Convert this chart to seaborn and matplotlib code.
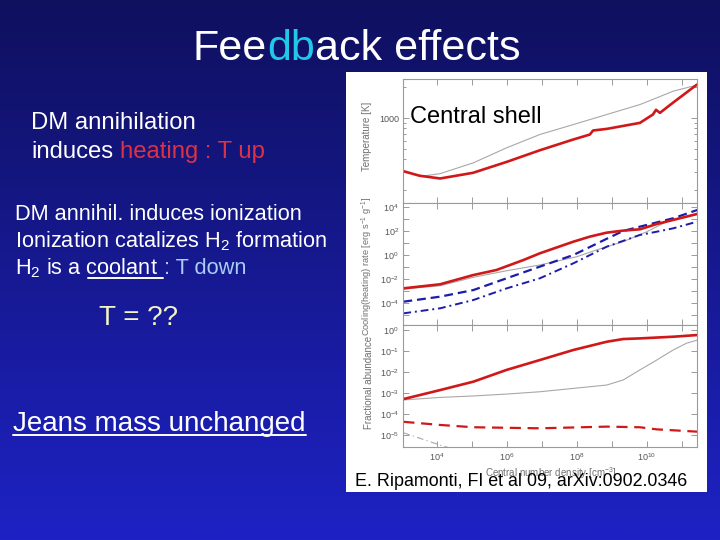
import numpy as np
import pandas as pd
import matplotlib
matplotlib.use("Agg")
import matplotlib.pyplot as plt
import seaborn as sns
from matplotlib.patches import Rectangle
from matplotlib.lines import Line2D
from matplotlib.ticker import NullLocator, NullFormatter

# ---------------- data (log10 values) ----------------
# Panel 1: temperature [K] vs central number density [cm^-3]
n_T_red = [3.04, 3.5, 4.09, 5.03, 6.0, 6.94, 7.89, 8.37, 8.46, 8.86, 9.80, 10.17, 10.26, 10.37, 10.74, 11.43]
T_red = [2.484, 2.44, 2.413, 2.468, 2.575, 2.687, 2.791, 2.84, 2.879, 2.895, 2.953, 3.034, 3.08, 3.05, 3.148, 3.325]
n_T_gray = [3.04, 3.51, 3.71, 4.09, 5.04, 5.99, 6.94, 7.9, 8.85, 9.80, 10.28, 10.75, 11.42]
T_gray = [2.484, 2.44, 2.442, 2.46, 2.565, 2.711, 2.84, 2.937, 3.034, 3.131, 3.196, 3.261, 3.319]

# Panel 2: cooling (heating) rate [erg s^-1 g^-1]
n_C_red = [3.04, 4.09, 5.04, 5.7, 6.47, 6.94, 7.9, 8.37, 8.85, 9.32, 9.8, 10.28, 10.75, 11.44]
C_red = [-2.78, -2.44, -1.67, -1.25, -0.42, 0.14, 1.11, 1.53, 1.86, 2.03, 2.14, 2.58, 2.92, 3.42]
n_C_gray = [3.04, 4.09, 5.04, 5.99, 6.94, 8.0, 8.56, 9.32, 10.0, 10.47, 10.75, 11.44]
C_gray = [-2.83, -2.56, -1.86, -1.31, -0.83, -0.14, 0.42, 1.11, 1.94, 2.64, 2.97, 3.42]
n_C_bdash = [3.04, 4.09, 5.04, 5.99, 6.94, 7.9, 8.85, 9.32, 9.8, 10.75, 11.44]
C_bdash = [-3.89, -3.47, -2.92, -1.94, -0.97, 0.0, 1.35, 2.0, 2.36, 3.06, 3.75]
n_C_bdot = [3.04, 4.09, 5.04, 5.99, 6.94, 7.9, 8.85, 9.8, 10.28, 10.75, 11.44]
C_bdot = [-4.86, -4.44, -3.75, -2.78, -1.94, -0.69, 0.69, 1.67, 1.94, 2.22, 2.78]

# Panel 3: fractional abundance
n_F_red = [3.04, 4.09, 5.04, 5.99, 6.94, 7.9, 8.85, 9.32, 9.8, 10.75, 11.44]
F_red = [-3.29, -2.86, -2.46, -1.90, -1.43, -0.95, -0.56, -0.43, -0.40, -0.32, -0.24]
n_F_gray = [3.04, 4.09, 5.04, 5.99, 6.94, 7.9, 8.85, 9.32, 9.8, 10.28, 10.75, 11.13, 11.44]
F_gray = [-3.33, -3.21, -3.14, -3.05, -2.94, -2.78, -2.62, -2.38, -1.90, -1.43, -0.95, -0.63, -0.48]
n_F_rdash = [3.04, 4.09, 5.04, 6.94, 8.85, 9.8, 10.28, 11.44]
F_rdash = [-4.37, -4.52, -4.63, -4.68, -4.60, -4.63, -4.73, -4.84]
n_F_gdash = [3.04, 4.09, 5.04]
F_gdash = [-4.89, -5.48, -5.95]

x_tick_exps = [4, 5, 6, 7, 8, 9, 10, 11]
x_label_exps = [4, 6, 8, 10]
C_tick_exps = [-5, -4, -3, -2, -1, 0, 1, 2, 3, 4]
C_label_exps = [-4, -2, 0, 2, 4]
F_tick_exps = [0, -1, -2, -3, -4, -5]

# ---------------- style ----------------
sns.set_style("white")
plt.rcParams["font.family"] = ["Liberation Sans", "DejaVu Sans"]
plt.rcParams.update({
    "mathtext.fontset": "custom",
    "mathtext.rm": "Liberation Sans",
    "mathtext.it": "Liberation Sans:italic",
    "mathtext.bf": "Liberation Sans:bold",
    "mathtext.sf": "Liberation Sans",
    "mathtext.default": "regular",
})

W, H = 720, 540
fig = plt.figure(figsize=(7.2, 5.4), dpi=100)

# background gradient + white picture frame
bg = fig.add_axes([0, 0, 1, 1], zorder=-10)
g = np.linspace(0, 1, 256)[:, None, None]
top = np.array([15, 16, 94]) / 255.0
bot = np.array([30, 34, 196]) / 255.0
img = np.repeat(top + (bot - top) * g, 2, axis=1)
bg.imshow(img, extent=[0, W, H, 0], aspect="auto", interpolation="bilinear")
bg.set_xlim(0, W)
bg.set_ylim(H, 0)
bg.axis("off")
bg.add_patch(Rectangle((346, 72), 361, 420, facecolor="white", edgecolor="none"))


def fax(l, t, r, b):
    return fig.add_axes([l / W, 1 - b / H, (r - l) / W, (b - t) / H])


ax1 = fax(403, 79, 697, 203)
ax2 = fax(403, 203, 697, 325)
ax3 = fax(403, 325, 697, 447)

RED = "#d01818"
GRAY = "#a8a8a8"
BLUE = "#1c1ca8"


def draw(ax, series):
    rows = []
    for name, xs, ys in series:
        for xv, yv in zip(xs, ys):
            rows.append({"n": 10.0 ** xv, "v": 10.0 ** yv, "s": name})
    df = pd.DataFrame(rows)
    names = [s[0] for s in series]
    pal = {"red": RED, "gray": GRAY, "bdash": BLUE, "bdot": BLUE, "rdash": RED, "gdash": GRAY}
    dsh = {"red": "", "gray": "", "bdash": (4, 2.2), "bdot": (4, 2, 1, 2), "rdash": (5, 3), "gdash": (6, 3, 1, 3)}
    szs = {"red": 1.9, "gray": 0.8, "bdash": 1.6, "bdot": 1.4, "rdash": 1.6, "gdash": 0.8}
    ax.set_xscale("log")
    ax.set_yscale("log")
    sns.lineplot(data=df, x="n", y="v", hue="s", style="s", size="s",
                 hue_order=names, style_order=names, size_order=names,
                 palette={k: pal[k] for k in names},
                 dashes={k: dsh[k] for k in names},
                 sizes={k: szs[k] for k in names},
                 estimator=None, sort=False, legend=False, ax=ax)


draw(ax1, [("gray", n_T_gray, T_gray), ("red", n_T_red, T_red)])
draw(ax2, [("gray", n_C_gray, C_gray), ("bdash", n_C_bdash, C_bdash),
           ("bdot", n_C_bdot, C_bdot), ("red", n_C_red, C_red)])
draw(ax3, [("gray", n_F_gray, F_gray), ("gdash", n_F_gdash, F_gdash),
           ("rdash", n_F_rdash, F_rdash), ("red", n_F_red, F_red)])

for ax in (ax1, ax2, ax3):
    ax.set_facecolor("white")
    ax.set_xlim(10 ** 3.03, 10 ** 11.43)
    ax.set_xlabel("")
    ax.set_ylabel("")
    for sp in ax.spines.values():
        sp.set_color("#9a9a9a")
        sp.set_linewidth(0.8)
        sp.set_visible(True)
    ax.set_xticks([10.0 ** k for k in x_tick_exps])
    ax.xaxis.set_minor_locator(NullLocator())
    ax.tick_params(which="both", direction="in", top=True, right=True, left=True, bottom=True,
                   color="#8a8a8a", labelsize=6.5, labelcolor="#555555", width=0.6)
    ax.tick_params(which="major", length=4, pad=3)
    ax.tick_params(which="minor", length=2)

ax1.set_xticklabels([])
ax2.set_xticklabels([])
ax3.set_xticklabels(["$10^{%d}$" % k if k in x_label_exps else "" for k in x_tick_exps])

ax1.set_ylim(10 ** 2.175, 10 ** 3.379)
ax1.set_yticks([1000])
ax1.set_yticklabels(["1000"])
ax1.set_yticks([200, 300, 400, 500, 600, 700, 800, 900, 2000], minor=True)
ax1.yaxis.set_minor_formatter(NullFormatter())

ax2.set_ylim(10 ** -5.83, 10 ** 4.33)
ax2.set_yticks([10.0 ** k for k in C_tick_exps])
ax2.set_yticklabels(["$10^{%d}$" % k if k in C_label_exps else "" for k in C_tick_exps])
ax2.yaxis.set_minor_locator(NullLocator())

ax3.set_ylim(10 ** -5.57, 10 ** 0.238)
ax3.set_yticks([10.0 ** k for k in F_tick_exps])
ax3.set_yticklabels(["$10^{%d}$" % k for k in F_tick_exps])
ax3.yaxis.set_minor_locator(NullLocator())

# axis labels of the embedded figure
lab = dict(fontsize=7, color="#707070", ha="center", va="center")
fig.text(367 / W, 1 - 136 / H, "Temperature [K]", rotation=90, **lab)
fig.text(367 / W, 1 - 266 / H, "Cooling(heating) rate [erg s$^{-1}$ g$^{-1}$]", rotation=90,
         fontsize=6.7, color="#707070", ha="center", va="center")
fig.text(369 / W, 1 - 382 / H, "Fractional abundance", rotation=90, **lab)
fig.text(551 / W, 1 - 473 / H, "Central number density [cm$^{-3}$]", **lab)

# ---------------- slide texts ----------------
R = fig.canvas.get_renderer()


def tw(s, size):
    t = fig.text(0, 0, s, fontsize=size)
    w = t.get_window_extent(R).width
    t.remove()
    return w


def seq(x0, y, pieces, size):
    """pieces: list of (text, color); drawn contiguously, returns list of (x_start, x_end)."""
    prefix = ""
    spans = []
    for text, color in pieces:
        prefix += text
        body = text.lstrip()
        end = x0 + tw(prefix, size)
        start = end - tw(body, size)
        fig.text(start / W, 1 - y / H, body, color=color, fontsize=size, ha="left", va="baseline")
        spans.append((start, end))
    return spans


def uline(x1, x2, y, color="white", lw=1.4):
    fig.add_artist(Line2D([x1 / W, x2 / W], [1 - y / H, 1 - y / H], color=color, lw=lw))


WHITE = "#ffffff"
seq(193, 60, [("Fee", WHITE), ("db", "#22c8e8"), ("ack effects", WHITE)], 31)

seq(31, 129, [("DM annihilation", WHITE)], 17.2)
seq(31, 158, [("induces", WHITE), (" heating : T up", "#dc3246")], 17.2)

seq(15, 220, [("DM annihil. induces ionization", WHITE)], 15.7)
seq(15, 247, [("Ionization catalizes H$_2$ formation", WHITE)], 15.7)
sp = seq(15, 274, [("H$_2$ is a coolant", WHITE), (" : T down", "#a9cdf5")], 15.7)
ul_end = sp[0][1]
ul_start = ul_end - tw("coolant", 15.7)
uline(ul_start, ul_end + 5, 277.5)

seq(99, 325, [("T = ??", "#f4f4c4")], 20)
sj = seq(13, 431, [("Jeans mass unchanged", WHITE)], 20)
uline(sj[0][0], sj[0][1], 435)

seq(410, 123, [("Central shell", "black")], 17)
seq(355, 486, [("E. Ripamonti, FI et al 09, arXiv:0902.0346", "black")], 12.9)

fig.savefig("out.png", dpi=100)
